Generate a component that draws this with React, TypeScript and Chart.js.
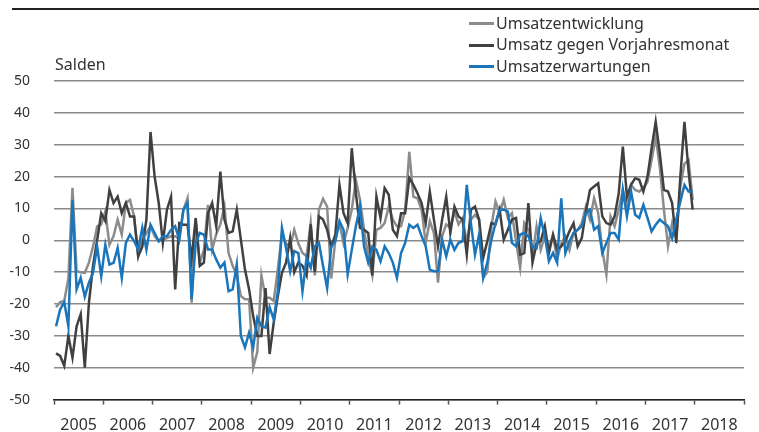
import React, { useEffect, useRef } from "react";
import { Chart, registerables } from "chart.js";

Chart.register(...registerables);

// Monthly balances (Salden), Jan 2005 – Dec 2017
const startYear = 2005;
const yearLabels = [2005, 2006, 2007, 2008, 2009, 2010, 2011, 2012, 2013, 2014, 2015, 2016, 2017, 2018];
const yTicks = [-50, -40, -30, -20, -10, 0, 10, 20, 30, 40, 50];

const umsatzentwicklung = [
  -21, -19.4, -19, -12, 16.5, -9.7, -10, -10.2, -7, -2,
  4.4, 5, 9, -1.4, 1.3, 6.5, 1.8, 11.7, 12.7, 7.5,
  -5, 0.2, 2.3, 4.4, 1.3, -0.3, 0.2, 0.7, 1.3, 1.3,
  0.2, 9.6, 13.2, -19.6, 6.5, -7, -3, 11.1, -3, 2,
  5, 10.6, -4, -8, -11, -17.5, -18.5, -18.5, -40, -35,
  -11, -18, -18, -19, -9, 2, -1, -2, 3.3, -1,
  -4, -5, 5.4, -11, 9.6, 13, 10.6, -12, 0.2, 5.4,
  -1, 3.9, 9.6, 19, 12.7, 3.3, -5, -11, 3.3, 3.9,
  5.4, 10.6, 6.5, 4.4, 4.4, 9.6, 27.8, 13.7, 13.2, 9.6,
  -0.8, 6, 2.3, -13.3, 1.3, 5, 3.9, 9, 5, 7,
  -0.8, 6.5, 8, 6.5, -11.8, -10, 4.4, 12.2, 8.5, 12.7,
  7, 8.5, -0.3, -8.6, 5.4, 3.3, -5, 4.4, -3, 1.3,
  -2, 1.3, -6, -1, 1.3, -3, 2.3, 3.3, 5.4, 10.6,
  6.5, 13.2, 8.5, -3, -10.7, 7.5, 4.4, 9.6, 15.8, 10.6,
  17.4, 15.8, 15.3, 16.4, 18.4, 25.2, 32.5, 23, 9.6, -1.9,
  5.4, 0.7, 16.9, 24, 25.2, 12.7,
];

const umsatzVorjahresmonat = [
  -35.5, -36.3, -39.4, -30, -36.8, -27, -23.2, -40, -19.6, -8,
  0, 8.5, 6, 15.8, 11.7, 13.7, 8.5, 11.7, 7.5, 7.5,
  -5, -2, 6.5, 34, 20, 11.7, -0.8, 9.6, 13.7, -15.4,
  5.4, 4.9, 4.9, -6, 7, -8, -7, 8.5, 11.7, 4.4,
  21.6, 6.5, 2.3, 2.8, 9.6, 0.2, -9.2, -15.4, -23.8, -30,
  -30, -15, -35.7, -25.8, -17.5, -10.2, -7, 0.7, -10, -7,
  -8, -11, 5, -10, 7.5, 6.5, 3.3, -2, 1.8, 17.4,
  8.5, 5.4, 28.9, 14.8, 3.9, 3.3, 2.3, -11, 13.7, 7,
  16.4, 14.3, 3.3, 1.3, 8.5, 8.5, 19.5, 17.4, 14.8, 11.7,
  5.4, 15.3, 6.5, -1.9, 6.5, 13.7, 2.3, 10.6, 7.5, 6.5,
  -4.5, 9.6, 10.6, 6.5, -5.5, -0.3, 5.4, 5, 9.6, 0.2,
  3.3, 6.5, 7, -4.5, -4, 11.7, -7, -1, -0.3, 4.4,
  -4, 1.8, -3, -1.9, -0.3, 2.8, 5.4, -1.9, 0.7, 9,
  15.8, 16.9, 17.9, 7.5, 5.4, 4.9, 7.5, 14.8, 29.4, 13.7,
  17.4, 19.5, 19, 15.3, 20, 28.9, 37.2, 27.3, 15.8, 15.3,
  11.7, -0.8, 20, 37.2, 21.6, 9.6,
];

const umsatzerwartungen = [
  -27, -21.7, -19.4, -27, 12.7, -15.4, -11.8, -17.7, -13.3, -10.2,
  -1.9, -11.3, -1.4, -7.6, -7.1, -2.4, -11.8, -0.8, 1.8, -0.3,
  -2.9, 3.9, -3, 4.9, 2.3, -0.3, 1.3, 1.3, 3.3, 4.4,
  0.2, 9.6, 11.7, -18.5, -0.8, 2.3, 1.8, -2.9, -2.9, -6,
  -8.6, -7, -16, -15.4, -7.6, -30, -33.6, -29, -33.6, -24.3,
  -27, -27.4, -21, -24.8, -16, 3.9, -2.4, -9.7, -3.4, -4,
  -16, -5.5, -8.6, -1.9, -0.8, -8, -15, -2, -0.3, 6,
  3.3, -10.7, -3, 4.4, 10.6, -2, -7, -2, -3, -6.6,
  -1.9, -4, -7, -11.8, -4, -0.8, 4.9, 3.9, 4.9, 1.3,
  -1.9, -9.2, -9.7, -9.7, 0.2, -5, 0.2, -3, -0.8, -0.3,
  17.4, 5.4, -4.5, 1.8, -11.8, -7, 0.2, 5.4, 9.6, 9.6,
  9, -0.8, -1.9, 1.8, 2.3, 1.3, -2, -2.5, 7, 1.3,
  -6.6, -4, -7, 13.2, -4, -0.3, 2.3, 3.3, 4.4, 8.5,
  9.6, 3.3, 4.4, -4, -0.8, 2.3, 2.3, 0.2, 15.8, 7.5,
  15.3, 8, 7, 11.1, 7, 2.8, 4.9, 6.5, 5.4, 4.4,
  0.7, 6.5, 12.2, 17.4, 15.3, 15.3,
];

const seriesNames = ["Umsatzentwicklung", "Umsatz gegen Vorjahresmonat", "Umsatzerwartungen"];
const seriesColors = ["#8c8c8c", "#404040", "#1a75bb"];

const FONT = "'Noto Sans', sans-serif";

const toPoints = (arr: number[]) => arr.map((v, i) => ({ x: i + 0.5, y: v }));

export default function App() {
  const canvasRef = useRef<HTMLCanvasElement | null>(null);

  useEffect(() => {
    document.body.style.margin = "0";
    const canvas = canvasRef.current;
    if (!canvas) return;
    const totalMonths = yearLabels.length * 12;
    const chart = new Chart(canvas, {
      type: "line",
      data: {
        datasets: [
          {
            label: seriesNames[0],
            data: toPoints(umsatzentwicklung),
            borderColor: seriesColors[0],
            borderWidth: 2.5,
            pointRadius: 0,
            tension: 0,
            order: 3,
          },
          {
            label: seriesNames[1],
            data: toPoints(umsatzVorjahresmonat),
            borderColor: seriesColors[1],
            borderWidth: 2.5,
            pointRadius: 0,
            tension: 0,
            order: 2,
          },
          {
            label: seriesNames[2],
            data: toPoints(umsatzerwartungen),
            borderColor: seriesColors[2],
            borderWidth: 2.5,
            pointRadius: 0,
            tension: 0,
            order: 1,
          },
        ],
      },
      options: {
        responsive: false,
        animation: false,
        events: [],
        layout: { padding: { top: 81, right: 15, left: 0, bottom: 0 } },
        plugins: { legend: { display: false }, tooltip: { enabled: false } },
        scales: {
          x: {
            type: "linear",
            min: 0,
            max: totalMonths,
            afterBuildTicks: (scale: any) => {
              const t: any[] = [];
              for (let v = 0; v <= totalMonths; v += 6) t.push({ value: v });
              scale.ticks = t;
            },
            afterFit: (scale: any) => {
              scale.height = 31;
            },
            ticks: {
              autoSkip: false,
              maxRotation: 0,
              minRotation: 0,
              padding: 11,
              color: "#333",
              font: { family: FONT, size: 16 },
              callback: (value: any) => {
                const v = Number(value);
                if (v % 12 === 6) return String(startYear + (v - 6) / 12);
                return "";
              },
            },
            grid: {
              drawOnChartArea: false,
              drawTicks: true,
              tickLength: 5,
              tickWidth: 1.5,
              tickColor: (ctx: any) => (ctx.tick && ctx.tick.value % 12 === 0 ? "#555" : "rgba(0,0,0,0)"),
            },
            border: { display: true, color: "#222", width: 1.5 },
          },
          y: {
            min: -50,
            max: 50,
            afterBuildTicks: (scale: any) => {
              scale.ticks = yTicks.map((v) => ({ value: v }));
            },
            afterFit: (scale: any) => {
              scale.width = 54;
            },
            ticks: {
              padding: 24,
              color: "#333",
              font: { family: FONT, size: 14 },
            },
            grid: {
              color: "#8a8a8a",
              lineWidth: 1.5,
              drawTicks: false,
            },
            border: { display: false },
          },
        },
      },
    });
    return () => chart.destroy();
  }, []);

  return (
    <div style={{ position: "relative", width: 759, height: 432, fontFamily: FONT, color: "#333" }}>
      <canvas ref={canvasRef} width={759} height={432} style={{ display: "block", width: 759, height: 432 }} />
      <div style={{ position: "absolute", left: 12, top: 8, width: 747, height: 2, background: "#222" }} />
      <div style={{ position: "absolute", left: 55, top: 54, fontSize: 16, lineHeight: "20px" }}>Salden</div>
      <div style={{ position: "absolute", left: 469, top: 12.6 }}>
        {seriesNames.map((name, i) => (
          <div key={name} style={{ display: "flex", alignItems: "center", height: 21.7, fontSize: 16, lineHeight: "21.7px", whiteSpace: "nowrap" }}>
            <span style={{ display: "inline-block", width: 25, height: 3, background: seriesColors[i], marginRight: 2 }} />
            <span>{name}</span>
          </div>
        ))}
      </div>
    </div>
  );
}
